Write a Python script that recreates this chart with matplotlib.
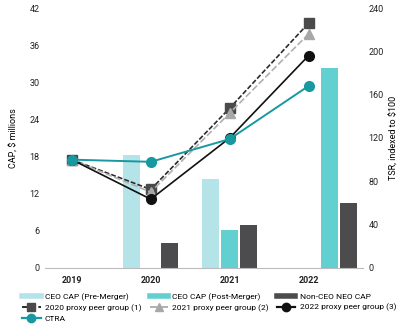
import numpy as np
import matplotlib.pyplot as plt
from matplotlib.lines import Line2D

plt.rcParams['font.family'] = ['Roboto', 'DejaVu Sans']

years = ['2019', '2020', '2021', '2022']

# compensation actually paid, $ millions (left axis)
ceo_pre = [0, 18.2, 14.4, 0]
ceo_post = [0, 0, 6.1, 32.3]
non_ceo = [0, 4.1, 6.9, 10.45]

# total shareholder return, indexed to $100 (right axis)
peer_2020 = [100, 72.5, 147.5, 226]
peer_2021 = [100, 70, 143, 216]
peer_2022 = [100, 63.5, 120, 196]
ctra = [100, 98, 119, 168]

c_pre = '#b4e4e7'
c_post = '#62cfd1'
c_non = '#4c4c4e'
c_ctra = '#17999f'

x = np.arange(len(years))
w = 0.215
step = 0.24
shift = np.array([0, 0, 0, 0.27])  # last group sits one slot to the right

fig = plt.figure(figsize=(4, 3.28), dpi=100)
ax = fig.add_axes([0.1125, 0.183, 0.795, 0.7926])
ax2 = ax.twinx()

ax.bar(x - step + shift, ceo_pre, w, color=c_pre, zorder=2)
ax.bar(x + shift, ceo_post, w, color=c_post, zorder=2)
ax.bar(x + step + shift, non_ceo, w, color=c_non, zorder=2)

ax2.plot(x, peer_2020, color='#2b2b2b', ls=(0, (3, 1.2)), lw=1.2,
         marker='s', ms=7, mfc='#4a4a4a', mec='#4a4a4a', zorder=3)
ax2.plot(x, peer_2021, color='#b0b0b0', ls=(0, (4, 1.5)), lw=1.2,
         marker='^', ms=7.5, mfc='#a8a8a8', mec='#a8a8a8', zorder=3)
ax2.plot(x, peer_2022, color='#111111', lw=1.2,
         marker='o', ms=7, mfc='#111111', mec='#111111', zorder=4)
ax2.plot(x, ctra, color=c_ctra, lw=1.4,
         marker='o', ms=7, mfc=c_ctra, mec=c_ctra, zorder=5)

ax.set_xlim(-0.34, 3.69)
ax.set_ylim(0, 42)
ax.set_yticks(np.arange(0, 43, 6))
ax2.set_ylim(0, 240)
ax2.set_yticks(np.arange(0, 241, 40))
ax.set_xticks(x)
ax.set_xticklabels(years, fontweight='bold', fontsize=6.5)

for a in (ax, ax2):
    for s in a.spines.values():
        s.set_visible(False)
    a.tick_params(axis='y', length=0, labelsize=6.5, colors='#222222', pad=4)
ax.tick_params(axis='x', length=0, pad=6, colors='#222222')
ax.spines['bottom'].set_visible(True)
ax.spines['bottom'].set_color('#bbbbbb')
ax.spines['bottom'].set_linewidth(0.8)

ax.set_ylabel('CAP, $ millions', fontsize=6.5, labelpad=8)
ax2.set_ylabel('TSR, indexed to $100', fontsize=6.5, labelpad=4)

handles = [
    Line2D([], [], color=c_pre, lw=4),
    Line2D([], [], color='#2b2b2b', ls=(0, (3, 1.2)), lw=1.4, marker='s', ms=6, mfc='#4a4a4a', mec='#4a4a4a'),
    Line2D([], [], color=c_ctra, lw=1.6, marker='o', ms=6, mfc=c_ctra, mec=c_ctra),
    Line2D([], [], color=c_post, lw=4),
    Line2D([], [], color='#b0b0b0', ls=(0, (4, 1.5)), lw=1.4, marker='^', ms=6, mfc='#a8a8a8', mec='#a8a8a8'),
    Line2D([], [], color='none'),
    Line2D([], [], color=c_non, lw=4),
    Line2D([], [], color='#111111', lw=1.6, marker='o', ms=6, mfc='#111111', mec='#111111'),
    Line2D([], [], color='none'),
]
labels = ['CEO CAP (Pre-Merger)', '2020 proxy peer group (1)', 'CTRA',
          'CEO CAP (Post-Merger)', '2021 proxy peer group (2)', '',
          'Non-CEO NEO CAP', '2022 proxy peer group (3)', '']
fig.legend(handles, labels, ncol=3, loc='upper left', bbox_to_anchor=(0.045, 0.118),
           frameon=False, fontsize=6, handlelength=2.2, handletextpad=0.5,
           columnspacing=1.0, labelspacing=0.38, borderpad=0)

fig.savefig('out.png', dpi=100)
